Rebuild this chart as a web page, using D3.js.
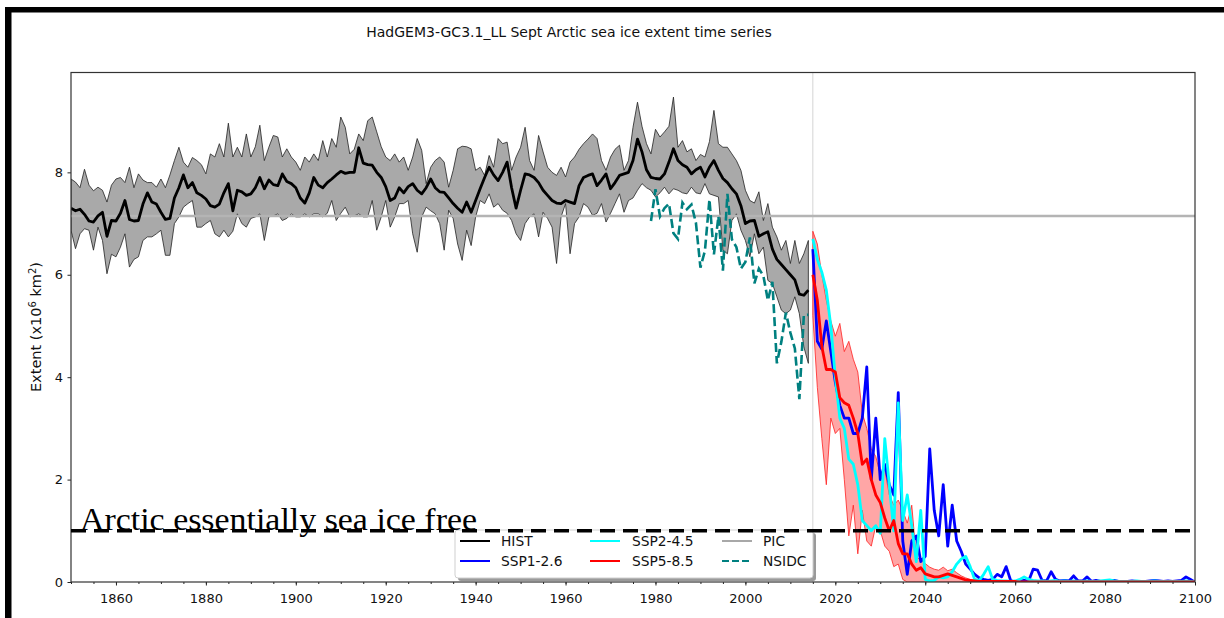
<!DOCTYPE html>
<html>
<head>
<meta charset="utf-8">
<script src="https://cdn.jsdelivr.net/npm/d3@7"></script>
<style>
body{margin:0;background:#fff;}
svg{display:block;font-family:"DejaVu Sans",sans-serif;}
</style>
</head>
<body>
<svg id="chart" width="1224" height="618"></svg>
<script>
// historical ensemble 1850-2014 (x10^6 km2)
var histStart = 1850;
var histMean = [
	7.3,7.25,7.28,7.18,7.05,7.03,7.15,7.22,6.75,7.06,
	7.05,7.2,7.45,7.08,7.05,7.06,7.38,7.6,7.42,7.38,
	7.22,7.08,7.1,7.5,7.7,7.95,7.7,7.8,7.6,7.55,
	7.48,7.35,7.32,7.38,7.6,7.78,7.25,7.65,7.62,7.55,
	7.58,7.7,7.9,7.68,7.85,7.76,7.74,7.97,7.82,7.78,
	7.7,7.5,7.4,7.6,7.9,7.75,7.7,7.8,7.87,7.95,
	8.02,7.98,8.0,8.0,8.48,8.18,8.15,8.14,8.0,7.9,
	7.72,7.45,7.5,7.7,7.6,7.72,7.78,7.65,7.58,7.7,
	7.87,7.7,7.62,7.61,7.5,7.39,7.3,7.22,7.42,7.22,
	7.45,7.68,7.9,8.1,7.95,7.84,8.0,8.2,7.7,7.3,
	7.65,7.97,7.95,7.9,7.8,7.65,7.55,7.45,7.4,7.39,
	7.45,7.42,7.39,7.74,7.9,7.94,7.97,7.74,7.85,7.97,
	7.68,7.8,7.94,7.97,8.0,8.23,8.65,8.4,8.05,7.9,
	7.88,7.87,7.97,8.2,8.46,8.23,8.15,8.1,7.97,8.05,
	8.1,7.91,8.1,8.23,8.04,7.88,7.8,7.68,7.58,7.35,
	7.0,7.05,7.06,6.75,6.8,6.84,6.5,6.3,6.2,6.1,
	6.0,5.9,5.62,5.6,5.7
];
var histHi = [
	7.87,7.81,7.7,8.06,7.75,7.64,7.71,7.65,7.42,7.75,
	7.87,7.9,7.8,8.1,7.7,7.97,7.85,7.8,7.8,7.71,
	7.87,7.7,7.95,8.23,8.49,8.2,8.1,8.29,8.23,8.15,
	7.97,8.36,8.3,8.56,8.3,8.96,8.3,8.49,8.3,8.75,
	8.3,8.5,8.92,8.23,8.49,8.72,8.69,8.3,8.46,8.3,
	8.2,8.04,8.3,8.2,8.36,8.23,8.62,8.3,8.66,8.49,
	9.08,8.88,8.36,8.45,8.75,8.62,9.01,9.08,8.79,8.5,
	8.3,8.23,8.36,8.2,8.3,8.04,8.3,8.66,8.43,7.78,
	8.1,8.23,8.3,8.2,7.71,8.04,8.46,8.51,8.5,8.46,
	8.04,8.1,7.94,8.33,8.1,8.66,8.56,8.59,8.04,8.3,
	8.49,8.88,8.23,8.04,8.72,8.4,8.1,8.0,7.94,8.1,
	7.91,8.2,8.3,8.45,8.56,8.65,8.75,8.66,8.23,8.04,
	8.3,8.45,8.53,8.04,8.23,8.88,9.37,8.9,8.56,8.36,
	8.84,8.69,8.79,8.9,9.47,8.49,8.62,8.4,8.46,8.23,
	8.35,8.3,8.6,9.21,8.56,8.49,8.49,8.36,8.23,8.04,
	7.65,7.45,7.4,7.62,7.06,7.39,6.93,6.74,6.48,6.67,
	6.22,6.67,6.22,6.41,6.67
];
var histLo = [
	6.87,6.51,6.8,6.9,6.87,6.48,6.93,6.67,6.02,6.4,
	6.35,6.54,6.8,6.15,6.3,6.35,6.67,6.74,6.74,6.8,
	6.87,6.38,6.38,7.0,7.13,7.32,7.39,7.45,6.93,6.93,
	7.0,7.06,6.8,6.74,6.87,6.74,6.85,7.19,7.0,6.93,
	7.1,7.13,7.19,6.67,7.13,7.15,7.19,7.06,7.1,7.19,
	7.13,7.13,7.19,7.13,7.19,7.19,7.13,7.2,7.45,7.06,
	7.2,7.32,7.13,7.15,7.19,7.13,7.13,7.45,6.87,7.13,
	7.45,6.93,7.13,7.39,7.39,7.45,6.8,6.44,7.13,7.32,
	7.25,7.19,7.0,6.48,7.26,7.1,6.6,6.28,6.87,6.57,
	7.13,7.45,7.39,7.58,7.32,7.39,7.26,7.2,7.06,6.8,
	6.67,7.0,7.13,7.19,6.74,7.22,7.1,6.93,6.22,7.13,
	7.39,6.41,7.0,7.13,7.39,7.32,7.16,7.2,7.39,7.03,
	7.2,7.39,7.58,7.22,7.45,7.5,7.65,7.78,7.7,7.65,
	7.52,7.6,7.71,7.58,7.68,7.65,7.6,7.58,7.71,7.6,
	7.58,7.78,7.58,7.55,7.52,6.48,6.41,7.06,7.19,6.87,
	6.67,6.35,6.8,6.41,6.54,5.89,5.83,5.57,5.31,5.24,
	5.31,5.57,5.24,4.59,4.27
];

// scenarios 2015-2100
var sspStart = 2015;
var ssp126 = [
	6.5,4.7,4.55,5.1,4.5,3.9,3.45,3.2,3.2,2.9,
	2.9,3.2,4.2,2.0,3.2,2.0,2.3,1.9,1.7,3.7,
	0.8,0.15,0.8,0.9,0.4,0.5,2.6,1.4,0.9,1.9,
	0.7,1.5,0.8,0.6,0.35,0.25,0.15,0.08,0.05,0.03,
	0.05,0.15,0.1,0.3,0.03,0.0,0.02,0.03,0.02,0.25,
	0.23,0.03,0.02,0.2,0.05,0.02,0.03,0.02,0.12,0.02,
	0.02,0.1,0.01,0.03,0.01,0.01,0.02,0.03,0.01,0.01,
	0.01,0.02,0.01,0.01,0.01,0.02,0.03,0.02,0.01,0.02,
	0.01,0.02,0.03,0.1,0.05,0.0
];
var ssp245 = [
	6.7,6.3,6.05,5.7,5.0,4.0,3.2,3.0,2.4,2.3,
	1.9,1.2,1.1,1.0,1.1,0.95,2.8,1.9,1.0,3.5,
	1.2,1.7,1.1,0.4,1.4,0.05,0.02,0.03,0.1,0.08,
	0.1,0.2,0.35,0.45,0.5,0.3,0.05,0.03,0.15,0.3,
	0.05,0.03,0.02,0.02,0.01,0.02,0.05,0.1,0.05,0.03,
	0.02,0.02,0.01,0.02,0.03,0.01,0.02,0.01,0.02,0.01,
	0.01,0.02,0.01,0.01,0.02,0.03,0.04,0.02,0.01,0.01,
	0.01,0.01,0.02,0.01,0.01,0.01,0.02,0.01,0.01,0.01,
	0.01,0.01,0.01,0.02,0.01,0.0
];
var ssp585 = [
	6.0,5.5,4.6,4.15,4.15,4.1,3.6,3.5,3.45,3.2,
	2.9,2.3,2.4,2.0,1.7,1.55,1.25,1.0,1.2,0.75,
	0.55,0.55,0.35,0.23,0.28,0.16,0.13,0.1,0.1,0.13,
	0.16,0.13,0.1,0.07,0.04,0.03,0.02,0.01,0.01,0.01,
	0.01,0.01,0.01,0.01,0.01,0.01,0.0,0.0,0.0,0.0,
	0.0,0.0,0.0,0.0,0.0,0.0,0.0,0.0,0.0,0.0,
	0.0,0.0,0.0,0.0,0.0,0.0,0.0,0.0,0.0,0.0,
	0.0,0.0,0.0,0.0,0.0,0.0,0.0,0.0,0.0,0.0,
	0.0,0.0,0.0,0.0,0.0,0.0
];
// SSP5-8.5 ensemble spread 2015-2055
var ssp585Hi = [
	6.85,6.6,6.0,5.5,5.1,4.8,5.05,4.5,4.7,4.35,
	4.1,3.3,3.0,2.6,2.45,2.1,2.2,1.7,1.5,1.6,
	1.4,1.15,1.5,0.5,0.42,0.36,0.29,0.25,0.23,0.29,
	0.22,0.25,0.18,0.12,0.08,0.05,0.03,0.02,0.01,0.01,0.0
];
var ssp585Lo = [
	5.2,3.8,2.8,1.9,3.2,2.9,3.0,2.0,0.9,1.5,
	0.55,1.4,0.8,0.7,1.1,1.0,0.7,0.6,0.3,0.35,
	0.05,0.0,0.0,0.0,0.0,0.0,0.0,0.0,0.0,0.0,
	0.0,0.0,0.0,0.0,0.0,0.0,0.0,0.0,0.0,0.0,0.0
];

// observations 1979-2014
var nsidcStart = 1979;
var nsidc = [
	7.05,7.67,7.14,7.30,7.39,6.81,6.70,7.41,7.28,7.37,
	7.01,6.14,6.47,7.47,6.40,7.14,6.08,7.58,6.69,6.54,
	6.12,6.25,6.73,5.83,6.12,5.98,5.50,5.86,4.27,4.69,
	5.26,4.87,4.56,3.57,5.21,5.22
];

var picLevel = 7.15, iceFreeLevel = 1.0, scenarioYear = 2015;
var xTicks = [1860,1880,1900,1920,1940,1960,1980,2000,2020,2040,2060,2080,2100];
var yTicks = [0,2,4,6,8];
var legendLabels = ["HIST","SSP1-2.6","SSP2-4.5","SSP5-8.5","PIC","NSIDC"];
var legendColors = ["#000000","#0000ff","#00ffff","#ff0000","#a8a8a8","#008080"];

var svg = d3.select("#chart");
var x = d3.scaleLinear().domain([1850,2100]).range([71,1195]);
var y = d3.scaleLinear().domain([0,9.95]).range([582,72.5]);

function pts(arr,start){
	return arr.map(function(v,i){return [start+i,v];});
}
var line = d3.line().x(function(d){return x(d[0]);}).y(function(d){return y(d[1]);});
var band = d3.area()
	.x(function(d){return x(d[0]);})
	.y0(function(d){return y(d[1]);})
	.y1(function(d){return y(d[2]);});
function bandPts(hi,lo,start){
	return hi.map(function(v,i){return [start+i,lo[i],v];});
}

svg.append("defs").append("clipPath").attr("id","plotClip")
	.append("rect").attr("x",71).attr("y",72.5).attr("width",1124).attr("height",509.5);

// frame of the screenshot
svg.append("rect").attr("x",5).attr("y",7).attr("width",1219).attr("height",5.5).attr("fill","#000");
svg.append("rect").attr("x",5).attr("y",7).attr("width",6.5).attr("height",611).attr("fill","#000");

svg.append("text").attr("x",569).attr("y",36.5).attr("text-anchor","middle")
	.attr("font-size",14).attr("fill","#111")
	.text("HadGEM3-GC3.1_LL Sept Arctic sea ice extent time series");

var plot = svg.append("g").attr("clip-path","url(#plotClip)");

plot.append("line").attr("x1",x(scenarioYear)).attr("x2",x(scenarioYear))
	.attr("y1",72.5).attr("y2",582).attr("stroke","#d4d4d4").attr("stroke-width",1);

// historical spread + mean
plot.append("path").datum(bandPts(histHi,histLo,histStart)).attr("d",band)
	.attr("fill","#a9a9a9").attr("stroke","#222").attr("stroke-width",0.8).attr("stroke-linejoin","round");

plot.append("line").attr("x1",71).attr("x2",1195).attr("y1",y(picLevel)).attr("y2",y(picLevel))
	.attr("stroke","#b4b4b4").attr("stroke-width",2.5);

plot.append("path").datum(pts(histMean,histStart)).attr("d",line)
	.attr("fill","none").attr("stroke","#000").attr("stroke-width",2.8).attr("stroke-linejoin","round");

plot.append("path").datum(pts(nsidc,nsidcStart)).attr("d",line)
	.attr("fill","none").attr("stroke","#008080").attr("stroke-width",2.6)
	.attr("stroke-dasharray","9,4");

// SSP5-8.5 spread
plot.append("path").datum(bandPts(ssp585Hi,ssp585Lo,sspStart)).attr("d",band)
	.attr("fill","rgba(255,0,0,0.35)").attr("stroke","#ff2020").attr("stroke-width",0.8).attr("stroke-linejoin","round");

[[ssp126,"#0000ff"],[ssp245,"#00ffff"],[ssp585,"#ff0000"]].forEach(function(s){
	plot.append("path").datum(pts(s[0],sspStart)).attr("d",line)
		.attr("fill","none").attr("stroke",s[1]).attr("stroke-width",2.8).attr("stroke-linejoin","round");
});

// axes
var gx = svg.append("g").attr("transform","translate(0,582)")
	.call(d3.axisBottom(x).tickValues(d3.range(1850,2101,5)).tickSize(2).tickSizeOuter(0).tickFormat(""));
gx.selectAll(".tick line").attr("stroke","#222");
gx.select(".domain").remove();

var gx2 = svg.append("g").attr("transform","translate(0,582)")
	.call(d3.axisBottom(x).tickValues(xTicks).tickSize(3.5).tickSizeOuter(0).tickPadding(8).tickFormat(d3.format("d")));
var gy = svg.append("g").attr("transform","translate(71,0)")
	.call(d3.axisLeft(y).tickValues(yTicks).tickSize(3.5).tickSizeOuter(0).tickPadding(4.5));
[gx2,gy].forEach(function(g){
	g.select(".domain").remove();
	g.selectAll(".tick line").attr("stroke","#222");
	g.selectAll("text").attr("font-family","DejaVu Sans").attr("font-size",13).attr("fill","#111");
});

svg.append("rect").attr("x",71).attr("y",72.5).attr("width",1124).attr("height",509.5)
	.attr("fill","none").attr("stroke","#333").attr("stroke-width",1.2);

var yl = svg.append("text").attr("transform","translate(41,327) rotate(-90)")
	.attr("text-anchor","middle").attr("font-size",14.5).attr("fill","#111");
yl.append("tspan").text("Extent (x10");
yl.append("tspan").attr("dy",-5.5).attr("font-size",10).text("6");
yl.append("tspan").attr("dy",5.5).text(" km");
yl.append("tspan").attr("dy",-5.5).attr("font-size",10).text("2");
yl.append("tspan").attr("dy",5.5).text(")");

// legend
var lg = svg.append("g");
lg.append("rect").attr("x",458).attr("y",533).attr("width",358).attr("height",48).attr("rx",3)
	.attr("fill","#9a9a9a");
lg.append("rect").attr("x",455).attr("y",530).attr("width",358).attr("height",48).attr("rx",3)
	.attr("fill","#fff").attr("stroke","#cfcfcf").attr("stroke-width",1);
var colLine = [460,590,722], colText = [501,632,763], rowY = [541,561];
legendLabels.forEach(function(lab,i){
	var c = Math.floor(i/2), r = i%2;
	lg.append("line").attr("x1",colLine[c]).attr("x2",colLine[c]+30)
		.attr("y1",rowY[r]).attr("y2",rowY[r]).attr("stroke",legendColors[i])
		.attr("stroke-width",2)
		.attr("stroke-dasharray",lab==="NSIDC"?"7,3":null);
	lg.append("text").attr("x",colText[c]).attr("y",rowY[r]).attr("dy","0.36em")
		.attr("font-size",13.8).attr("fill","#111").text(lab);
});

// ice-free threshold
svg.append("line").attr("x1",71).attr("x2",1195).attr("y1",y(iceFreeLevel)).attr("y2",y(iceFreeLevel))
	.attr("stroke","#000").attr("stroke-width",3.6).attr("stroke-dasharray","15,8");

svg.append("text").attr("x",80).attr("y",530).attr("font-family","Liberation Serif, serif")
	.attr("font-size",32).attr("fill","#000")
	.attr("textLength",397).attr("lengthAdjust","spacingAndGlyphs")
	.text("Arctic essentially sea ice free");
</script>
</body>
</html>
